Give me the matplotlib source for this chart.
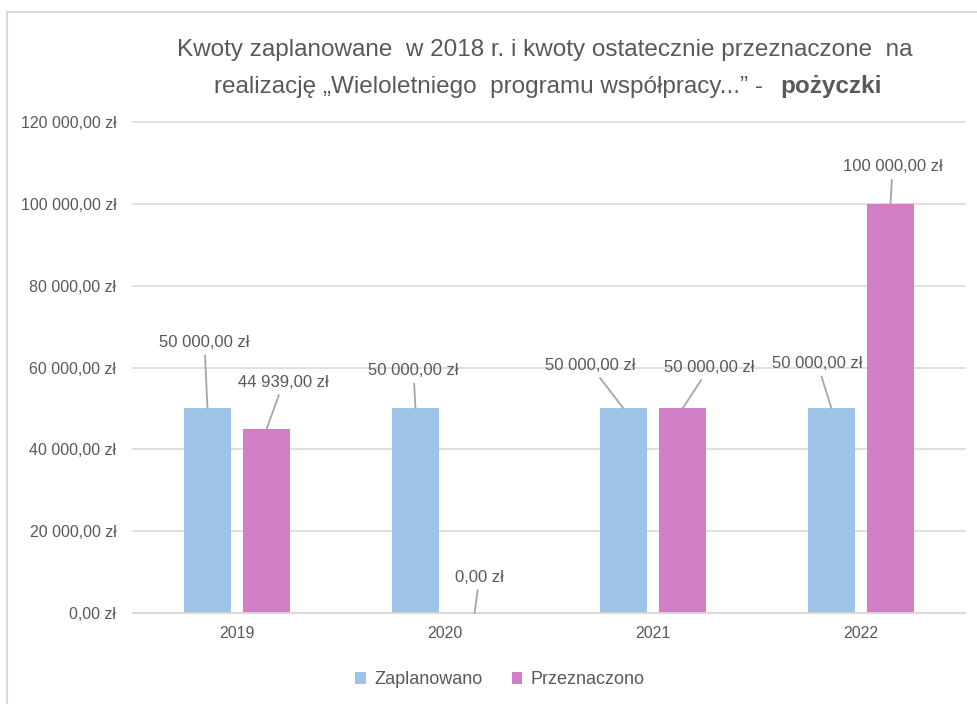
import matplotlib
matplotlib.use("Agg")
import matplotlib.pyplot as plt
import numpy as np
from matplotlib.patches import Rectangle

lata = ["2019", "2020", "2021", "2022"]
zaplanowano = [50000, 50000, 50000, 50000]
przeznaczono = [44939, 0, 50000, 100000]
seria = ["Zaplanowano", "Przeznaczono"]

plt.rcParams['font.family'] = ['Liberation Sans', 'DejaVu Sans']
szary = '#595959'
kol_z = '#9DC3E6'
kol_p = '#D07FC6'


def zl(v):
    s = f"{v:,.2f}".replace(",", " ").replace(".", ",")
    return s + " zł"


fig = plt.figure(figsize=(9.77, 7.04), dpi=100)
W, H = 977, 704
ax = fig.add_axes([133 / W, 1 - 613 / H, 832 / W, 491 / H])

x = np.arange(len(lata))
w = 0.226
b1 = ax.bar(x - 0.142, zaplanowano, w, color=kol_z, label=seria[0])
b2 = ax.bar(x + 0.142, przeznaczono, w, color=kol_p, label=seria[1])

ax.set_xlim(-0.5, len(lata) - 0.5)
ax.set_ylim(0, 120000)
ax.set_yticks(np.arange(0, 120001, 20000))
ax.set_yticklabels([zl(v) for v in np.arange(0, 120001, 20000)])
ax.set_xticks(x)
ax.set_xticklabels(lata)
ax.grid(axis='y', color='#D9D9D9', linewidth=1.2)
for l in ax.get_ygridlines():
    l.set_clip_on(False)
ax.set_axisbelow(True)
for s in ['top', 'right', 'left']:
    ax.spines[s].set_visible(False)
ax.spines['bottom'].set_color('#D9D9D9')
ax.spines['bottom'].set_linewidth(1.2)
ax.tick_params(length=0, colors=szary, labelsize=11.5)
ax.tick_params(axis='y', pad=12)
ax.tick_params(axis='x', pad=9)

# przesunięcia etykiet (piksele)
off_z = [(-3, 66), (-2, 38), (-33, 43), (-14, 45)]
off_p = [(17, 47), (5, 36), (27, 41), (2, 37)]
for bars, vals, offs in [(b1, zaplanowano, off_z), (b2, przeznaczono, off_p)]:
    for r, v, o in zip(bars, vals, offs):
        ax.annotate(zl(v), (r.get_x() + r.get_width() / 2, v),
                    xytext=o, textcoords='offset pixels',
                    ha='center', va='center', fontsize=12, color=szary,
                    arrowprops=dict(arrowstyle='-', color='#A6A6A6', lw=1.3,
                                    shrinkA=2, shrinkB=0))

fig.text(545 / W, 1 - 50 / H,
         "Kwoty zaplanowane  w 2018 r. i kwoty ostatecznie przeznaczone  na",
         ha='center', va='center', fontsize=17.5, color=szary)
fig.text(777 / W, 1 - 87 / H,
         "realizację „Wieloletniego  programu współpracy...” -  ",
         ha='right', va='center', fontsize=17.5, color=szary)
fig.text(780 / W, 1 - 87 / H, "pożyczki",
         ha='left', va='center', fontsize=17.5, color=szary, fontweight='bold')

leg = fig.legend(loc='center', bbox_to_anchor=(500 / W, 1 - 680 / H), ncol=2,
                 frameon=False, fontsize=13, handlelength=0.6, handleheight=0.6,
                 columnspacing=1.6, handletextpad=0.45)
for t in leg.get_texts():
    t.set_color(szary)

fig.patches.append(Rectangle((7 / W, -0.1), 1.2, 1 - 12 / H + 0.1,
                             transform=fig.transFigure, fill=False,
                             edgecolor='#D9D9D9', linewidth=1.5))

fig.savefig("out.png", dpi=100)
